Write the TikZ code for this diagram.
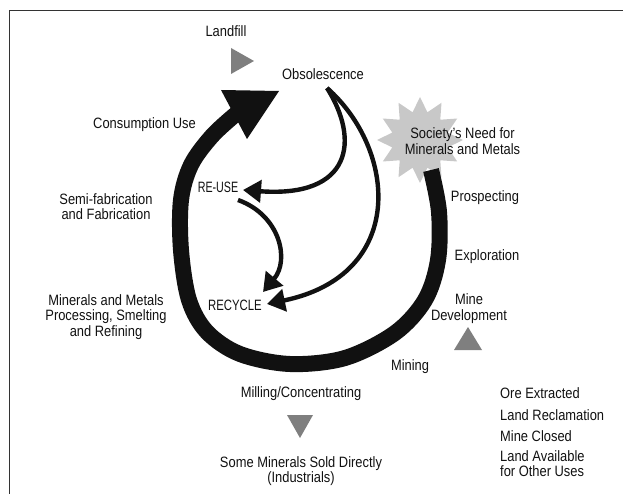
\documentclass[tikz,border=0pt]{standalone}
\usepackage{fontspec}
\setmainfont{Liberation Sans}[FakeStretch=0.86]
\usetikzlibrary{arrows.meta,shapes.geometric}
\definecolor{markgray}{HTML}{7F7F7F}
\definecolor{stargray}{HTML}{C8C8C8}
\definecolor{ink}{HTML}{111111}
\begin{document}
\begin{tikzpicture}[x=1pt,y=-1pt,
  lbl/.style={inner sep=0pt, text=ink, font=\fontsize{15}{15.5}\selectfont},
  ringline/.style={line width=16pt, draw=ink},
  looparrow/.style={line width=4.4pt, draw=ink, -{Triangle[length=18pt,width=22pt]}},
  marker/.style={fill=markgray},
  frameline/.style={line width=1.3pt, draw=black!80}]
\useasboundingbox (0,0) rectangle (623,494);
\draw[frameline] (9.5,494) -- (9.5,10.5) -- (623,10.5);

% starburst
\node[star, star points=12, star point ratio=1.5, minimum size=86pt, inner sep=0pt, fill=stargray] (need) at (420,140) {};

% labels
\node[lbl, anchor=base] (landfill) at (226,37) {Landfill};
\node[lbl, anchor=base] (obs) at (323,80) {Obsolescence};
\node[lbl, anchor=base] (consume) at (144.5,129) {Consumption Use};
\node[lbl, align=center] (semifab) at (106,206.5) {Semi-fabrication\\and Fabrication};
\node[lbl, align=center] (process) at (106,317) {Minerals and Metals\\Processing, Smelting\\and Refining};
\node[lbl, anchor=base] (reuse) at (218,193) {\scalebox{0.83}[1]{RE-USE}};
\node[lbl, anchor=base] (recycle) at (235,310) {\scalebox{0.88}[1]{RECYCLE}};
\node[lbl, align=center] (needtxt) at (462.5,141) {Society's Need for\\Minerals and Metals};
\node[lbl, anchor=base] (prosp) at (485,202) {Prospecting};
\node[lbl, anchor=base] (explor) at (487,260) {Exploration};
\node[lbl, align=center] (minedev) at (469,308.5) {Mine\\Development};
\node[lbl, anchor=base] (mining) at (410,370) {Mining};
\node[lbl, anchor=base] (milling) at (301,397) {Milling/Concentrating};
\node[lbl, align=center] (sold) at (301,471) {Some Minerals Sold Directly\\(Industrials)};
\node[lbl, anchor=base west] (ore) at (500,398) {Ore Extracted};
\node[lbl, anchor=base west] (reclaim) at (500,420) {Land Reclamation};
\node[lbl, anchor=base west] (closed) at (500,441.5) {Mine Closed};
\node[lbl, anchor=west, align=left] (avail) at (500,463.5) {Land Available\\for Other Uses};

% gray markers
\fill[marker] (231,48) -- (231,74) -- (254,61) -- cycle;
\fill[marker] (454,350) -- (482,350) -- (468,327) -- cycle;
\fill[marker] (287,415) -- (313,415) -- (300,438) -- cycle;

% main cycle
\coordinate (ringstart) at (431,170);
\coordinate (ringend) at (236,114);
\draw[ringline] plot[smooth, tension=0.55] coordinates {(ringstart) (439,212) (438,260) (425,300) (395,333) (345,358) (290,364) (240,354) (207,332) (189,300) (181,250) (181,200) (191,165) (212,136) (ringend)};
\fill[ink] (221,90) -- (279,91) -- (247,139) -- cycle;

% inner loops
\coordinate (src) at (327,88);
\coordinate (reusetip) at (243,190);
\coordinate (recycletip) at (267,304);
\coordinate (reusesrc) at (238,200);
\coordinate (recycletip2) at (263,292);
\draw[looparrow] (src) .. controls (360,140) and (352,198) .. (reusetip);
\draw[looparrow] (src) .. controls (397,150) and (407,275) .. (recycletip);
\draw[looparrow] (reusesrc) .. controls (280,215) and (290,260) .. (recycletip2);
\end{tikzpicture}
\end{document}
